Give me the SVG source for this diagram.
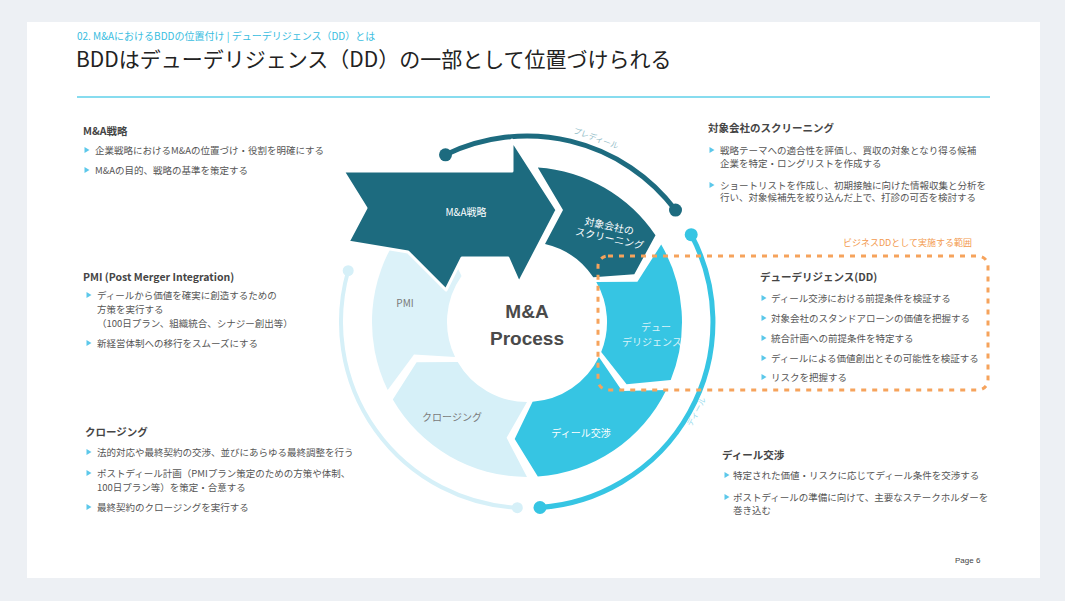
<svg xmlns="http://www.w3.org/2000/svg" xmlns:xlink="http://www.w3.org/1999/xlink" width="1065" height="601" viewBox="0 0 1065 601">
<style>
text{font-family:"Noto Sans CJK JP","Noto Sans",sans-serif}
text.lat{font-family:"Liberation Sans",Arial,sans-serif}
.h{font-size:10.5px;font-weight:bold;fill:#454545}
.t{font-size:9.5px;fill:#555}
.bm{fill:#5cc8ea}
.seg{font-size:10px;text-anchor:middle}
.w{fill:#fff}
.g{fill:#7a7a7a}
.dark{fill:#1d6b7f}
.cy{fill:#36c5e3}
.lt{fill:#d6f0f8}
</style>
<defs>
<polygon id="bm" class="bm" points="-2.5,-3 2.5,0 -2.5,3"/>
</defs>
<rect x="0" y="0" width="1065" height="601" fill="#edf0f4"/>
<rect x="27" y="22" width="1013" height="556" fill="#fff"/>

<g id="header">
<text x="77" y="40" font-size="10" fill="#38bde0">02. M&amp;AにおけるBDDの位置付け | デューデリジェンス（DD）とは</text>
<text x="76" y="67" font-size="21" fill="#222">BDDはデューデリジェンス（DD）の一部として位置づけられる</text>
<line x1="77" y1="97" x2="990" y2="97" stroke="#5fd0ea" stroke-width="1.5"/>
</g>

<g id="connectors" fill="none">
<path d="M445.5,154.8 A186,186 0 0 1 675.5,210.1" stroke="#1d6b7f" stroke-width="5"/>
<circle cx="445.5" cy="154.8" r="6.5" fill="#1d6b7f"/>
<circle cx="675.5" cy="210.1" r="6.5" fill="#1d6b7f"/>
<path d="M691.2,234.7 A186,186 0 0 1 540,507.5" stroke="#36c5e3" stroke-width="5"/>
<circle cx="691.2" cy="234.7" r="6.5" fill="#36c5e3"/>
<circle cx="540" cy="507.5" r="6.5" fill="#36c5e3"/>
<path d="M517.3,507.7 A186,186 0 0 1 348.2,270.7" stroke="#d6f0f8" stroke-width="4"/>
<circle cx="517.3" cy="507.7" r="5.5" fill="#d6f0f8"/>
<circle cx="348.2" cy="270.7" r="5.5" fill="#d6f0f8"/>
<text x="595" y="141" font-size="8" fill="#8fbcc7" text-anchor="middle" transform="rotate(20 595 141)">プレディール</text>
<text x="699" y="413" font-size="8" fill="#9adcee" text-anchor="middle" transform="rotate(-62 699 413)">ディール</text>
</g>

<g id="pmi">
<path d="M387.7,390 A155,155 0 0 1 400,233.1 L443.9,238.9 L461.5,276.1 A80,80 0 0 0 455.1,357.1 L414,354.4 Z" fill="#dcf2f9"/>
<text class="seg g" x="405" y="306.5">PMI</text>
</g>

<g id="closing">
<path class="lt" d="M527,477 A155,155 0 0 1 392.8,399.5 L416.6,362.2 L457.7,362 A80,80 0 0 0 527,402 L506.6,437.7 Z"/>
<text class="seg g" x="452" y="420.5">クロージング</text>
</g>

<g id="deal">
<path class="cy" d="M666.3,390 A155,155 0 0 1 537.8,476.6 L514.7,438.9 L532.6,401.8 A80,80 0 0 0 598.9,357.1 L622.1,391.1 Z"/>
<text class="seg w" x="581" y="436.5">ディール交渉</text>
</g>

<g id="dd">
<path class="cy" d="M661.2,244.5 A155,155 0 0 1 670.7,380.1 L626.6,384.3 L601.2,352 A80,80 0 0 0 596.3,282 L637.4,281.8 Z"/>
<text class="seg w" x="656" y="330.5" opacity="0.8">デュー</text>
<text class="seg w" x="652" y="345.5" opacity="0.8">デリジェンス</text>
</g>

<g id="screening">
<path class="dark" d="M537.8,167.4 A155,155 0 0 1 655.5,235.3 L634.3,274.2 L593.3,277.3 A80,80 0 0 0 545,244 L563,210 Z"/>
<g transform="rotate(12 610 232)">
<text class="seg w" x="608" y="230">対象会社の</text>
<text class="seg w" x="611" y="242">スクリーニング</text>
</g>
</g>

<g id="strategy">
<polygon class="dark" points="343,171 512,171 512,140 557,210 519,283 508,258 462,258 446,290 408,252 348,242 366,208" stroke="#fff" stroke-width="3" stroke-linejoin="round"/>
<text class="seg w" x="466" y="215.5">M&amp;A戦略</text>
</g>

<g id="center">
<text class="lat" x="527" y="318" font-size="19" font-weight="bold" fill="#4a4a4a" text-anchor="middle">M&amp;A</text>
<text class="lat" x="527" y="345" font-size="19" font-weight="bold" fill="#4a4a4a" text-anchor="middle">Process</text>
</g>

<g id="bdd-scope">
<rect x="598" y="256" width="390" height="134" rx="10" fill="none" stroke="#f6a35c" stroke-width="3" stroke-dasharray="5 6"/>
<text x="972" y="246" font-size="9" fill="#f39a4e" text-anchor="end">ビジネスDDとして実施する範囲</text>
</g>

<g id="text-strategy">
<text class="h" x="83" y="135">M&amp;A戦略</text>
<use xlink:href="#bm" x="87" y="150"/>
<text class="t" x="95" y="153.5">企業戦略におけるM&amp;Aの位置づけ・役割を明確にする</text>
<use xlink:href="#bm" x="87" y="170"/>
<text class="t" x="95" y="173.5">M&amp;Aの目的、戦略の基準を策定する</text>
</g>

<g id="text-pmi">
<text class="h" x="83" y="280.5">PMI (Post Merger Integration)</text>
<use xlink:href="#bm" x="89" y="295"/>
<text class="t" x="97" y="298.5">ディールから価値を確実に創造するための</text>
<text class="t" x="97" y="312.5">方策を実行する</text>
<text class="t" x="97" y="326.5">（100日プラン、組織統合、シナジー創出等）</text>
<use xlink:href="#bm" x="89" y="343"/>
<text class="t" x="97" y="346.5">新経営体制への移行をスムーズにする</text>
</g>

<g id="text-closing">
<text class="h" x="85" y="435.5">クロージング</text>
<use xlink:href="#bm" x="89" y="452"/>
<text class="t" x="97" y="455.5">法的対応や最終契約の交渉、並びにあらゆる最終調整を行う</text>
<use xlink:href="#bm" x="89" y="473"/>
<text class="t" x="97" y="476.5">ポストディール計画（PMIプラン策定のための方策や体制、</text>
<text class="t" x="97" y="490.5">100日プラン等）を策定・合意する</text>
<use xlink:href="#bm" x="89" y="507"/>
<text class="t" x="97" y="510.5">最終契約のクロージングを実行する</text>
</g>

<g id="text-screening">
<text class="h" x="708" y="131.5">対象会社のスクリーニング</text>
<use xlink:href="#bm" x="712" y="150"/>
<text class="t" x="720" y="153.5">戦略テーマへの適合性を評価し、買収の対象となり得る候補</text>
<text class="t" x="720" y="166.5">企業を特定・ロングリストを作成する</text>
<use xlink:href="#bm" x="712" y="185"/>
<text class="t" x="720" y="188.5">ショートリストを作成し、初期接触に向けた情報収集と分析を</text>
<text class="t" x="720" y="201">行い、対象候補先を絞り込んだ上で、打診の可否を検討する</text>
</g>

<g id="text-dd">
<text class="h" x="760" y="280.5">デューデリジェンス(DD)</text>
<use xlink:href="#bm" x="764" y="298"/>
<text class="t" x="771" y="301.5">ディール交渉における前提条件を検証する</text>
<use xlink:href="#bm" x="764" y="318"/>
<text class="t" x="771" y="321.5">対象会社のスタンドアローンの価値を把握する</text>
<use xlink:href="#bm" x="764" y="338"/>
<text class="t" x="771" y="341.5">統合計画への前提条件を特定する</text>
<use xlink:href="#bm" x="764" y="358"/>
<text class="t" x="771" y="361.5">ディールによる価値創出とその可能性を検証する</text>
<use xlink:href="#bm" x="764" y="377"/>
<text class="t" x="771" y="380.5">リスクを把握する</text>
</g>

<g id="text-deal">
<text class="h" x="722" y="458.5">ディール交渉</text>
<use xlink:href="#bm" x="727" y="475"/>
<text class="t" x="733" y="478.5">特定された価値・リスクに応じてディール条件を交渉する</text>
<use xlink:href="#bm" x="727" y="497"/>
<text class="t" x="733" y="500.5">ポストディールの準備に向けて、主要なステークホルダーを</text>
<text class="t" x="733" y="513.5">巻き込む</text>
</g>

<text class="lat" x="955" y="563" font-size="8" fill="#444">Page 6</text>
</svg>
